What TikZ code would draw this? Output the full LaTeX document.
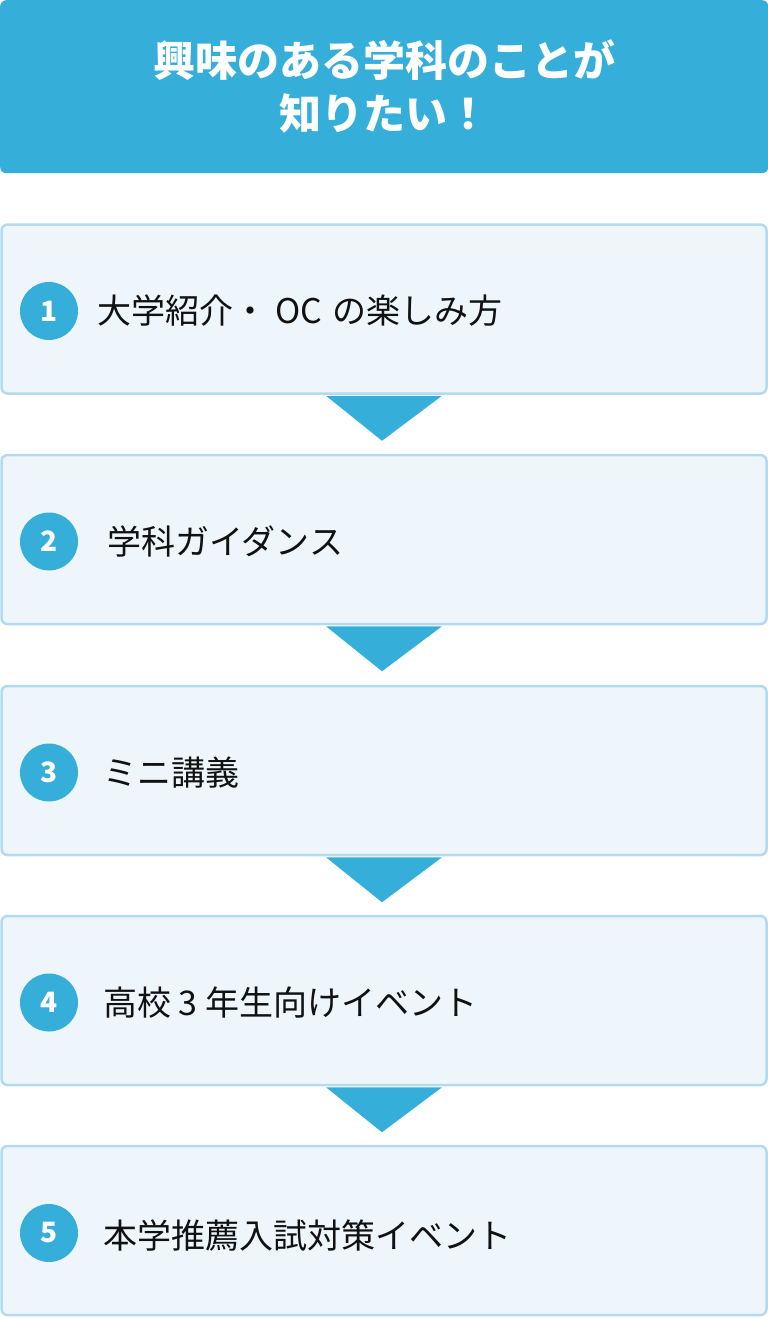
\documentclass[tikz,border=0pt]{standalone}
\usepackage{fontspec}
\setmainfont{Noto Sans CJK JP}
\usetikzlibrary{calc}
\definecolor{hdr}{HTML}{35AED9}
\definecolor{boxfill}{HTML}{EEF6FC}
\definecolor{boxline}{HTML}{B3DAEF}
\definecolor{txt}{HTML}{111111}
\tikzset{
  header/.style={fill=hdr, rounded corners=6pt, minimum width=768pt, minimum height=173pt, inner sep=0pt, anchor=north west, text=white, font=\bfseries\fontsize{42}{53}\selectfont, align=center},
  stepbox/.style={fill=boxfill, draw=boxline, line width=2.5pt, rounded corners=6pt, minimum width=765pt, minimum height=169pt, inner sep=0pt},
  numcirc/.style={circle, fill=hdr, minimum size=58pt, inner sep=0pt, text=white, font=\bfseries\fontsize{28}{32}\selectfont},
  label/.style={anchor=west, inner sep=0pt, text=txt, font=\fontsize{34}{40}\selectfont},
  pointer/.style={fill=hdr}
}
\begin{document}
\begin{tikzpicture}[x=1pt,y=1pt]
\useasboundingbox (0,0) rectangle (768,-1318);
\node[header] (h) at (0,0) {興味のある学科のことが\\知りたい！};
\node[stepbox] (b1) at (384,-309) {};
\node[stepbox] (b2) at (384,-539.5) {};
\node[stepbox] (b3) at (384,-770.5) {};
\node[stepbox] (b4) at (384,-1000.5) {};
\node[stepbox] (b5) at (384,-1230.5) {};
\node[numcirc] (c1) at (49,-311) {1};
\node[numcirc] (c2) at (49,-541.5) {2};
\node[numcirc] (c3) at (49,-772.5) {3};
\node[numcirc] (c4) at (49,-1002.5) {4};
\node[numcirc] (c5) at (49,-1233) {5};
\node[label] (t1) at (97,-311) {大学紹介・\hspace{8pt}OC\hspace{3pt} の楽しみ方};
\node[label] (t2) at (107,-541.5) {学科ガイダンス};
\node[label] (t3) at (103,-772.5) {ミニ講義};
\node[label] (t4) at (103,-1002.5) {高校 3 年生向けイベント};
\node[label] (t5) at (103,-1236) {本学推薦入試対策イベント};
\foreach \a in {b1,b2,b3,b4}{
  \fill[pointer] ($(\a.south)+(-58,-1)$) -- ($(\a.south)+(58,-1)$) -- ($(\a.south)+(-2,-46)$) -- cycle;
}
\end{tikzpicture}
\end{document}
